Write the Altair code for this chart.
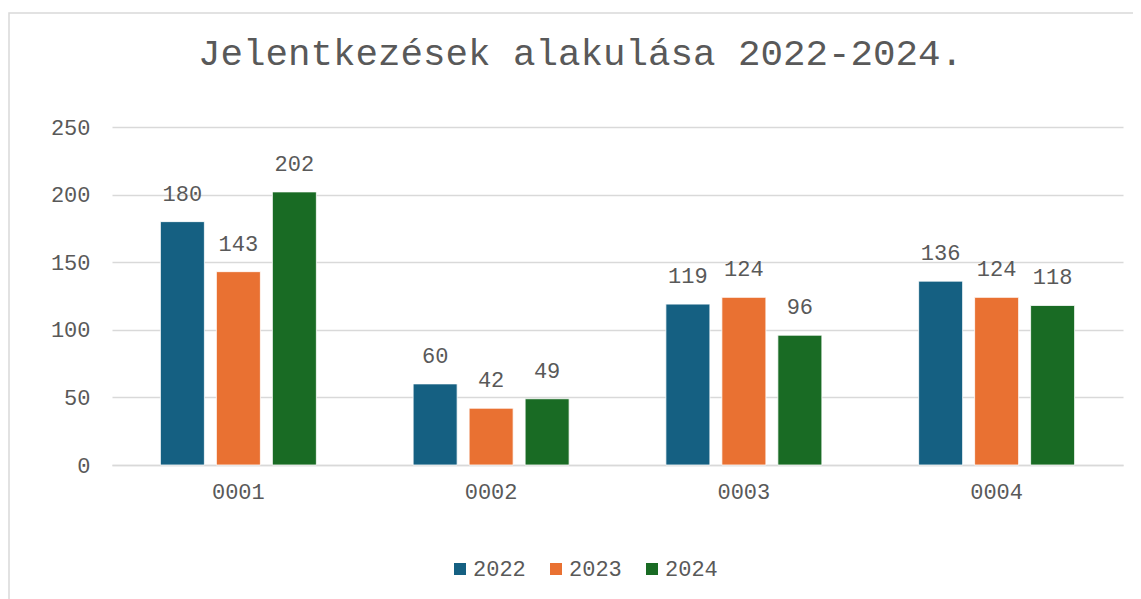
import altair as alt
import pandas as pd

categories = ["0001", "0002", "0003", "0004"]
years = ["2022", "2023", "2024"]
v2022 = [180, 60, 119, 136]
v2023 = [143, 42, 124, 124]
v2024 = [202, 49, 96, 118]
colors = ["#156082", "#E97132", "#196B24"]

rows = []
for yr, vals in zip(years, [v2022, v2023, v2024]):
    for c, v in zip(categories, vals):
        rows.append({"cat": c, "year": yr, "value": v})
df = pd.DataFrame(rows)

FONT = "Liberation Mono"
TXT = "#595959"

base = alt.Chart(df).encode(
    x=alt.X("cat:N", sort=categories, title=None,
            scale=alt.Scale(paddingInner=0, paddingOuter=0),
            axis=alt.Axis(labelAngle=0, ticks=False, domain=True, domainColor="#d9d9d9",
                          domainWidth=1.5, labelPadding=16, labelFontSize=22,
                          labelColor=TXT, labelFont=FONT)),
    xOffset=alt.XOffset("year:N", sort=years,
                        scale=alt.Scale(paddingInner=0.214, paddingOuter=0.864)),
)

bars = base.mark_bar(stroke="white", strokeWidth=0.8).encode(
    y=alt.Y("value:Q", title=None,
            scale=alt.Scale(domain=[0, 250], nice=False),
            axis=alt.Axis(values=[0, 50, 100, 150, 200, 250], ticks=False, domain=False,
                          gridColor="#d9d9d9", gridWidth=1.5, labelPadding=22,
                          labelFontSize=22, labelColor=TXT, labelFont=FONT)),
    color=alt.Color("year:N", sort=years,
                    scale=alt.Scale(domain=years, range=colors),
                    legend=alt.Legend(title=None, orient="none", direction="horizontal",
                                      legendX=337, legendY=431, symbolType="square",
                                      symbolSize=144, symbolStrokeWidth=0,
                                      labelFontSize=22, labelFont=FONT, labelColor=TXT,
                                      labelOffset=2, columnPadding=19)),
)

labels = base.mark_text(baseline="alphabetic", dy=-21, fontSize=22, font=FONT, color=TXT).encode(
    y=alt.Y("value:Q"),
    text=alt.Text("value:Q"),
)

border = alt.Chart(pd.DataFrame({"a": [0]})).mark_rect(
    fillOpacity=0, stroke="#d9d9d9", strokeWidth=1.5
).encode(
    x=alt.value(-103), x2=alt.value(1100), y=alt.value(-114), y2=alt.value(600)
)

chart = alt.layer(border, bars, labels).properties(
    width=1011,
    height=338,
    autosize=alt.AutoSizeParams(type="none"),
    padding={"left": 104, "top": 119, "right": 10, "bottom": 134},
    title=alt.TitleParams("Jelentkezések alakulása 2022-2024.", font=FONT, fontSize=37.5,
                          fontWeight="normal", color=TXT, anchor="middle", dx=-37,
                          offset=-60),
).configure_view(stroke=None)

chart.save("out.html", embed_options={"renderer": "svg", "actions": False})
